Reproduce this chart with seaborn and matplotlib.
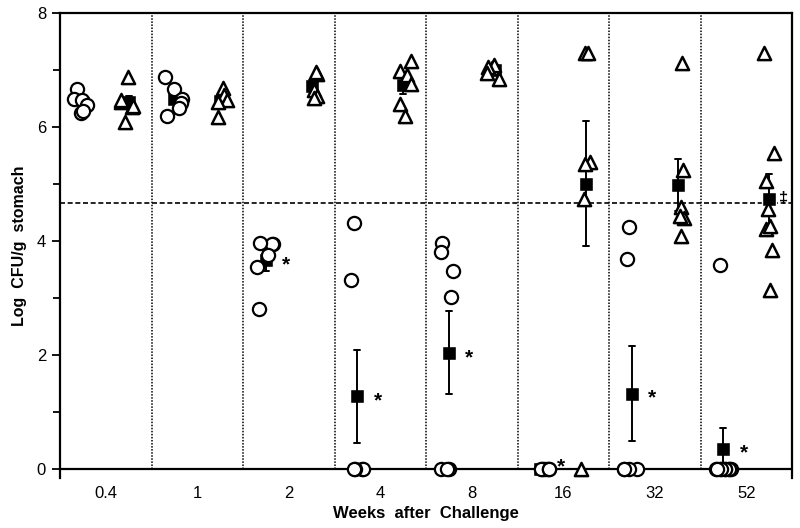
import numpy as np
import pandas as pd
import matplotlib
matplotlib.use("Agg")
import matplotlib.pyplot as plt
from matplotlib.ticker import MultipleLocator
import seaborn as sns

# ---------------- data (Log CFU/g stomach) ----------------
weeks = ["0.4", "1", "2", "4", "8", "16", "32", "52"]

# open circles
circles_w0_4 = [6.66, 6.49, 6.47, 6.39, 6.25, 6.28]
circles_w1 = [6.87, 6.67, 6.49, 6.42, 6.33, 6.19]
circles_w2 = [3.94, 3.94, 3.96, 3.75, 3.55, 2.81]
circles_w4 = [4.32, 3.32, 0, 0, 0, 0]
circles_w8 = [3.96, 3.80, 3.48, 3.01, 0, 0, 0]
circles_w16 = [0, 0, 0, 0, 0, 0]
circles_w32 = [4.25, 3.68, 0, 0, 0, 0]
circles_w52 = [3.58, 0, 0, 0, 0, 0, 0, 0, 0, 0]

# open triangles
triangles_w0_4 = [6.88, 6.35, 6.43, 6.47, 6.37, 6.09]
triangles_w1 = [6.68, 6.56, 6.47, 6.44, 6.17]
triangles_w2 = [6.93, 6.97, 6.65, 6.55, 6.51]
triangles_w4 = [7.16, 6.99, 6.91, 6.75, 6.40, 6.19]
triangles_w8 = [7.04, 7.08, 7.05, 6.95, 6.84]
triangles_w16 = [7.29, 7.29, 5.39, 5.35, 4.73, 0]
triangles_w32 = [7.13, 5.24, 4.60, 4.40, 4.44, 4.09]
triangles_w52 = [7.29, 5.54, 5.05, 4.56, 4.21, 4.26, 3.85, 3.14]

circle_marks = ["", "", "*", "*", "*", "*", "*", "*"]
triangle_marks = ["", "", "", "", "", "", "", "\u2021"]
threshold = 4.67
# -----------------------------------------------------------

circles = [circles_w0_4, circles_w1, circles_w2, circles_w4,
           circles_w8, circles_w16, circles_w32, circles_w52]
triangles = [triangles_w0_4, triangles_w1, triangles_w2, triangles_w4,
             triangles_w8, triangles_w16, triangles_w32, triangles_w52]

rows = []
for i, wk in enumerate(weeks):
    for v in circles[i]:
        rows.append(dict(week=wk, group="circle", xpos=i + 0.25, value=v))
    for v in triangles[i]:
        rows.append(dict(week=wk, group="triangle", xpos=i + 0.75, value=v))
df = pd.DataFrame(rows)

sns.set_style("white")
plt.rcParams["font.family"] = ["Liberation Sans", "DejaVu Sans"]
for k in ["text.color", "axes.labelcolor", "xtick.color", "ytick.color",
          "axes.edgecolor"]:
    plt.rcParams[k] = "black"

fig = plt.figure(figsize=(8, 5.28), dpi=100)
ax = fig.add_axes([0.075, 0.0956, 0.915, 0.8798])

# means +/- SEM
sns.pointplot(data=df, x="xpos", y="value", native_scale=True,
              estimator="mean", errorbar="se", color="black",
              markers="s", linestyles="none", capsize=0.13,
              err_kws={"linewidth": 1.4},
              markersize=10, markeredgecolor="white", markeredgewidth=1.0,
              ax=ax)

np.random.seed(11)
sns.stripplot(data=df[df.group == "circle"], x="xpos", y="value",
              native_scale=True, jitter=0.1, marker="o", size=9.5,
              color="white", edgecolor="black", linewidth=1.6,
              zorder=3, ax=ax)
sns.stripplot(data=df[df.group == "triangle"], x="xpos", y="value",
              native_scale=True, jitter=0.09, marker="^", size=9.5,
              color="white", edgecolor="black", linewidth=1.8,
              zorder=3, ax=ax)

# significance marks
means = df.groupby(["group", "xpos"])["value"].mean()
for i in range(len(weeks)):
    if circle_marks[i]:
        m = means[("circle", i + 0.25)]
        ax.text(i + 0.25 + 0.22, max(m, 0.12) - 0.08, circle_marks[i],
                ha="center", va="center", fontsize=15, fontweight="bold")
    if triangle_marks[i]:
        m = means[("triangle", i + 0.75)]
        ax.text(i + 0.75 + 0.16, m, triangle_marks[i],
                ha="center", va="center", fontsize=12, fontweight="bold")

# separators & threshold
ax.vlines(np.arange(1, len(weeks)), 0, 8, colors="black",
          linestyles=(0, (1, 1)), linewidth=1.1, zorder=1)
ax.axhline(threshold, color="black", linestyle=(0, (3, 1.6)),
           linewidth=1.2, zorder=1)
ax.axhline(0, color="black", linewidth=1.6, zorder=2.5)

ax.set_xlim(0, len(weeks))
ax.set_ylim(-0.15, 8)
ax.set_xticks(np.arange(len(weeks)) + 0.5)
ax.set_xticklabels(weeks, fontsize=12)
ax.tick_params(axis="x", length=0, pad=6)
ax.yaxis.set_major_locator(MultipleLocator(2))
ax.yaxis.set_minor_locator(MultipleLocator(1))
ax.tick_params(axis="y", which="major", length=6, width=1.3,
               labelsize=12, direction="out", left=True, pad=4)
ax.tick_params(axis="y", which="minor", length=5, width=1.3,
               direction="out", left=True)

for s in ["left", "top", "right"]:
    ax.spines[s].set_visible(True)
    ax.spines[s].set_color("black")
    ax.spines[s].set_linewidth(1.6)
ax.spines["bottom"].set_visible(False)

ax.set_xlabel("Weeks  after  Challenge", fontsize=12, fontweight="bold",
              labelpad=4)
ax.set_ylabel("Log  CFU/g  stomach", fontsize=11.5, fontweight="bold",
              labelpad=7)

fig.savefig("out.png", dpi=100)
